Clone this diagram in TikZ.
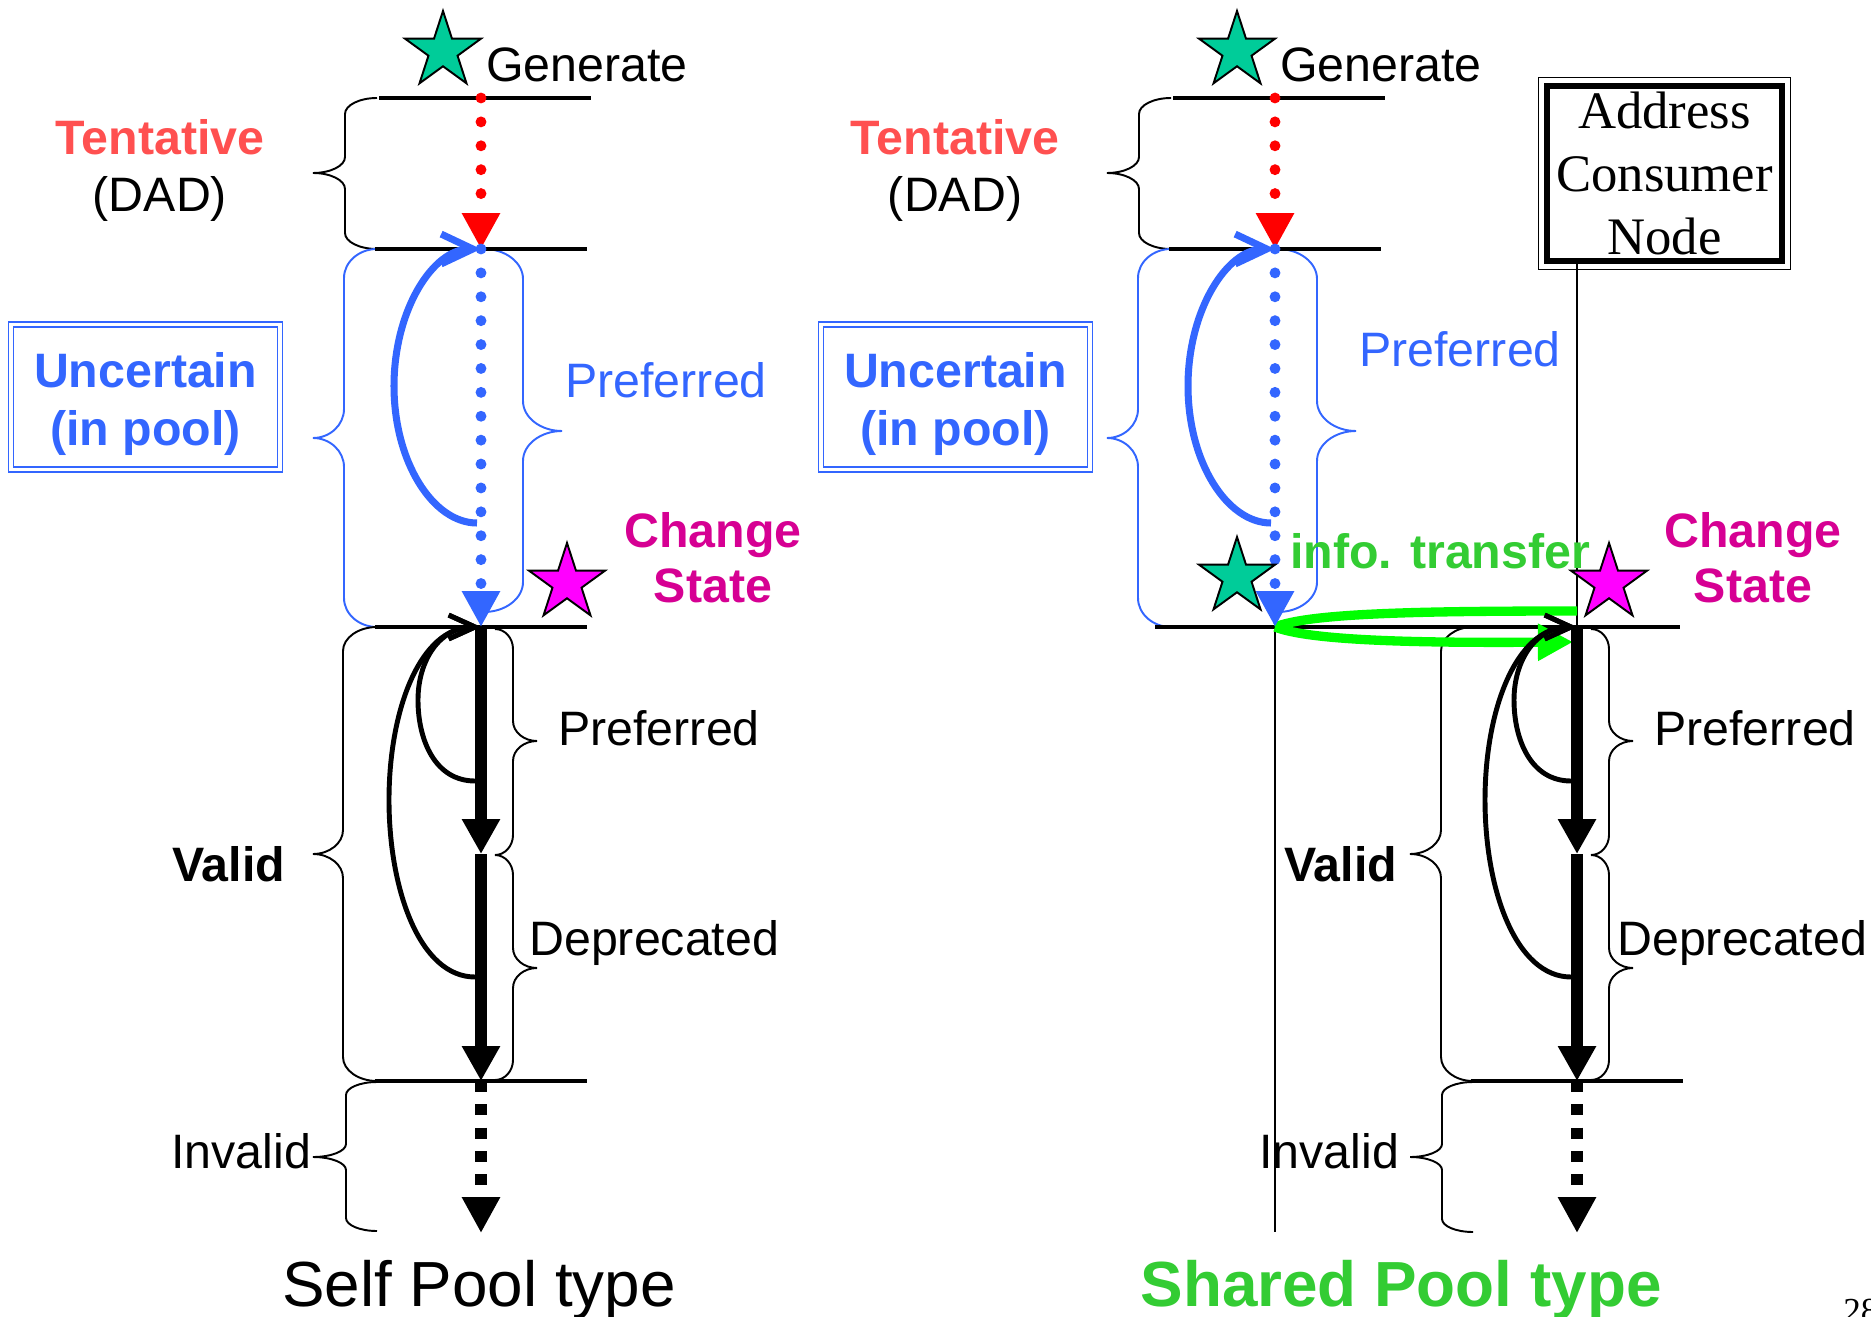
\documentclass[tikz,border=0pt]{standalone}
\usepackage{fontspec}
\setmainfont{Liberation Sans}
\newfontfamily\serifT{Liberation Serif}
\usetikzlibrary{arrows.meta,shapes.geometric}
\definecolor{tentred}{RGB}{255,80,80}
\definecolor{dotred}{RGB}{255,0,0}
\definecolor{poolblue}{RGB}{51,102,255}
\definecolor{stargreen}{RGB}{0,204,153}
\definecolor{starmag}{RGB}{255,0,255}
\definecolor{chgmag}{RGB}{214,0,147}
\definecolor{txtgreen}{RGB}{51,204,51}
\definecolor{arrgreen}{RGB}{0,255,0}
% brace: #1 style, #2 x of spine, #3 x of tip, #4 x of ends, #5 top y, #6 tip y, #7 bottom y, #8 curl
\newcommand{\BraceP}[8]{\draw[#1]
  (#4,#5) .. controls ({#2+0.45*(#4-#2)},#5) and (#2,{#5+0.45*#8}) .. (#2,{#5+#8})
  -- (#2,{#6-#8}) .. controls (#2,{#6-0.45*#8}) and ({#2+0.45*(#3-#2)},#6) .. (#3,#6)
  .. controls ({#2+0.45*(#3-#2)},#6) and (#2,{#6+0.45*#8}) .. (#2,{#6+#8})
  -- (#2,{#7-#8}) .. controls (#2,{#7-0.45*#8}) and ({#2+0.45*(#4-#2)},#7) .. (#4,#7);}
\tikzset{
  hline/.style={line width=2pt},
  bracek/.style={line width=1.1pt},
  braceb/.style={line width=1.1pt, draw=poolblue},
  reddots/.style={color=dotred, line width=6.2pt, line cap=round, dash pattern=on 0pt off 13.6pt, -{Triangle[length=20.4pt,width=20.4pt]}},
  bluedots/.style={color=poolblue, line width=6.2pt, line cap=round, dash pattern=on 0pt off 13.6pt, -{Triangle[length=20.4pt,width=20.4pt]}},
  thickarr/.style={line width=6.8pt, -{Triangle[length=19.8pt,width=20.4pt]}},
  dasharr/.style={line width=6.8pt, dash pattern=on 6.2pt off 7.1pt, -{Triangle[length=20.4pt,width=20.4pt]}},
  bluecurve/.style={color=poolblue, line width=4pt, -{Straight Barb[length=18pt,width=17pt]}},
  blackcurve/.style={line width=2.8pt, -{Straight Barb[length=15pt,width=13.6pt]}},
  lifeline/.style={line width=1.1pt},
  greenarr/.style={color=arrgreen, line width=5.3pt},
  txt/.style={inner sep=0pt, font=\fontsize{27.5}{31.2}\selectfont},
  btxt/.style={inner sep=0pt, font=\fontsize{27.5}{31.2}\selectfont\bfseries},
  startg/.style={star, star points=5, star point ratio=2.618, minimum size=1.6cm, inner sep=0pt, draw, line width=1.1pt, fill=stargreen},
  starm/.style={star, star points=5, star point ratio=2.618, minimum size=1.6cm, inner sep=0pt, draw, line width=1.1pt, fill=starmag},
  poolbox/.style={draw=poolblue, double, double distance=1.87pt, line width=0.96pt, minimum width=5.38cm, minimum height=2.89cm, inner sep=0pt, text=poolblue, align=center, font=\fontsize{27.5}{32.9}\selectfont\bfseries},
  chgtxt/.style={inner sep=0pt, text=chgmag, align=center, font=\fontsize{27.5}{31.4}\selectfont\bfseries},
}
\begin{document}
\begin{tikzpicture}[x=0.02cm, y=-0.02cm]
\path[use as bounding box, fill=white] (0,0) rectangle (1871,1317);

% ================= LEFT: Self Pool type =================
\coordinate (LgenP) at (481,98);
\coordinate (LtenP) at (481,249);
\coordinate (LprefP) at (481,627);
\coordinate (LdepP) at (481,854);
\coordinate (LinvP) at (481,1081);
\coordinate (LendP) at (481,1233);
\coordinate (LbluS) at (477,523);
\coordinate (LloopA) at (475,781);
\coordinate (LloopB) at (475,977);

% braces
\BraceP{bracek}{345}{313}{377}{98}{173}{249}{16}
\BraceP{braceb}{344}{313}{377}{249}{438}{627}{29}
\BraceP{braceb}{523}{562}{484}{249}{431}{612}{30}
\BraceP{bracek}{343}{313}{377}{627}{854}{1081}{24}
\BraceP{bracek}{513}{537}{495}{629}{741}{855}{20}
\BraceP{bracek}{513}{537}{495}{855}{968}{1080}{20}
\BraceP{bracek}{346}{313}{377}{1082}{1157}{1231}{13}

% horizontal state lines
\draw[hline] (379,98) -- (591,98);
\draw[hline] (375,249) -- (587,249);
\draw[hline] (375,627) -- (587,627);
\draw[hline] (375,1081) -- (587,1081);

% arrows
\draw[reddots] (LgenP) -- (LtenP);
\draw[bluedots] (LtenP) -- (LprefP);
\draw[thickarr] (LprefP) -- (LdepP);
\draw[thickarr] (LdepP) -- (LinvP);
\draw[dasharr] (LinvP) -- (LendP);
\draw[bluecurve] (LbluS) .. controls (433,523) and (394,462) .. (394,386) .. controls (394,310) and (433,249) .. (LtenP);
\draw[blackcurve] (LloopA) .. controls (435,781) and (418,740) .. (418,700) .. controls (418,660) and (440,627) .. (LprefP);
\draw[blackcurve] (LloopB) .. controls (420,977) and (389,890) .. (389,800) .. controls (389,710) and (420,627) .. (LprefP);

% stars
\node[startg] (LgenS) at (443,51) {};
\node[starm] (LchgS) at (567,583) {};

% texts
\node[txt, anchor=base west] (LgenT) at (486,82) {Generate};
\node[btxt, text=tentred, anchor=base] (LtentT) at (160,155) {Tentative};
\node[txt, anchor=base] (LdadT) at (160,212) {(DAD)};
\node[poolbox] (Lunc) at (145.5,397) {\rule{0pt}{28pt}Uncertain\\(in pool)};
\node[txt, text=poolblue, anchor=base west] (LprefB) at (565,398) {Preferred};
\node[chgtxt] (LchgT) at (713,558) {Change\\State};
\node[txt, anchor=base west] (LprefT) at (558,745) {Preferred};
\node[txt, anchor=base west] (LdepT) at (529,955) {Deprecated};
\node[btxt, anchor=base west] (LvalT) at (172,881) {Valid};
\node[txt, anchor=base west] (LinvT) at (171,1168) {Invalid};
\node[inner sep=0pt, anchor=base, font=\fontsize{36.3}{40}\selectfont] (LtitleT) at (479,1306) {Self Pool type};

% ================= RIGHT: Shared Pool type =================
\coordinate (RgenP) at (1275,98);
\coordinate (RtenP) at (1275,249);
\coordinate (RprefP) at (1275,627);
\coordinate (RlifeE) at (1275,1232);
\coordinate (RvalP) at (1577,627);
\coordinate (RdepP) at (1577,854);
\coordinate (RinvP) at (1577,1081);
\coordinate (RendP) at (1577,1233);
\coordinate (RbluS) at (1271,523);
\coordinate (RloopA) at (1571,781);
\coordinate (RloopB) at (1571,977);
\coordinate (RgTop) at (1577,611);
\coordinate (RgTip) at (1573,642);

% braces
\BraceP{bracek}{1139}{1107}{1171}{98}{173}{249}{16}
\BraceP{braceb}{1138}{1107}{1171}{249}{438}{627}{29}
\BraceP{braceb}{1317}{1356}{1278}{249}{431}{612}{30}
\BraceP{bracek}{1441}{1410}{1473}{627}{854}{1081}{24}
\BraceP{bracek}{1609}{1633}{1591}{629}{741}{855}{20}
\BraceP{bracek}{1609}{1633}{1591}{855}{968}{1080}{20}
\BraceP{bracek}{1442}{1410}{1473}{1082}{1157}{1232}{13}

% horizontal state lines
\draw[hline] (1173,98) -- (1385,98);
\draw[hline] (1169,249) -- (1381,249);
\draw[hline] (1155,627) -- (1680,627);
\draw[hline] (1471,1081) -- (1683,1081);

% address consumer node
\node[draw, line width=3.4pt, outer sep=0pt, minimum width=4.7cm, minimum height=3.5cm, inner sep=0pt, fill=white, align=center, font=\serifT\fontsize{30}{35.7}\selectfont] (acn) at (1664.5,173.5) {Address\\Consumer\\Node};
\draw[line width=0.85pt] ([shift={(-8.5,-8.5)}]acn.north west) rectangle ([shift={(8.5,8.5)}]acn.south east);

% lifelines
\draw[lifeline] (acn.south -| RvalP) -- (RvalP);
\draw[lifeline] (RprefP) -- (RlifeE);

% info transfer
\draw[greenarr] (RprefP) .. controls (1310,613) and (1420,611) .. (RgTop);
\draw[greenarr, -{Triangle[length=20pt,width=20pt]}] (RprefP) .. controls (1310,641) and (1420,643) .. (RgTip);

% arrows
\draw[reddots] (RgenP) -- (RtenP);
\draw[bluedots] (RtenP) -- (RprefP);
\draw[thickarr] (RvalP) -- (RdepP);
\draw[thickarr] (RdepP) -- (RinvP);
\draw[dasharr] (RinvP) -- (RendP);
\draw[bluecurve] (RbluS) .. controls (1227,523) and (1188,462) .. (1188,386) .. controls (1188,310) and (1227,249) .. (RtenP);
\draw[blackcurve] (RloopA) .. controls (1531,781) and (1514,740) .. (1514,700) .. controls (1514,660) and (1536,627) .. (RvalP);
\draw[blackcurve] (RloopB) .. controls (1516,977) and (1485,890) .. (1485,800) .. controls (1485,710) and (1516,627) .. (RvalP);

% stars
\node[startg] (RgenS) at (1237,51) {};
\node[startg] (RxferS) at (1237,577) {};
\node[starm] (RchgS) at (1609,583) {};

% texts
\node[txt, anchor=base west] (RgenT) at (1280,82) {Generate};
\node[btxt, text=tentred, anchor=base] (RtentT) at (955,155) {Tentative};
\node[txt, anchor=base] (RdadT) at (955,212) {(DAD)};
\node[poolbox] (Runc) at (955.5,397) {\rule{0pt}{28pt}Uncertain\\(in pool)};
\node[txt, text=poolblue, anchor=base west] (RprefB) at (1359,367) {Preferred};
\node[btxt, text=txtgreen, anchor=base west] (RxferT) at (1290,568) {info. transfer};
\node[chgtxt] (RchgT) at (1753,558) {Change\\State};
\node[txt, anchor=base west] (RprefT) at (1654,745) {Preferred};
\node[txt, anchor=base west] (RdepT) at (1617,955) {Deprecated};
\node[btxt, anchor=base west] (RvalT) at (1284,881) {Valid};
\node[txt, anchor=base west] (RinvT) at (1259,1168) {Invalid};
\node[inner sep=0pt, anchor=base, text=txtgreen, font=\fontsize{36.3}{40}\selectfont\bfseries] (RtitleT) at (1401,1306) {Shared Pool type};

% page number (cut by the page edge, as in the reference)
\node[inner sep=0pt, anchor=base west, font=\serifT\fontsize{20}{24}\selectfont] (pgnum) at (1843,1322) {28};
\end{tikzpicture}
\end{document}
